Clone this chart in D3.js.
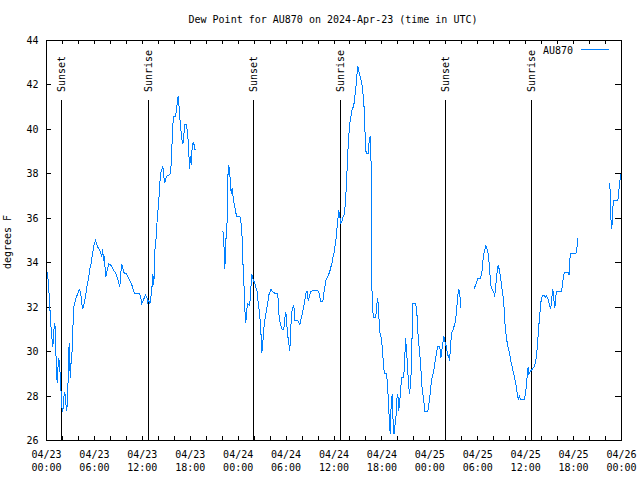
<!DOCTYPE html>
<html><head><meta charset="utf-8">
<script src="https://cdn.jsdelivr.net/npm/d3@7"></script>
<style>
body{margin:0;background:#fff}
svg{display:block}
text{font-family:"DejaVu Sans Mono","Liberation Mono",monospace;font-size:10px;fill:#000}
</style>
</head><body>
<svg id="chart" width="640" height="480"></svg>
<script>
// ---- chart content ----
const chartTitle = "Dew Point for AU870 on 2024-Apr-23 (time in UTC)";
const seriesName = "AU870";
const yAxisLabel = "degrees F";
const startTime = "2024-04-23T00:00:00Z";
const endTime = "2024-04-26T00:00:00Z";
const yTickValues = [26, 28, 30, 32, 34, 36, 38, 40, 42, 44];

// sun events (hours since 2024-04-23 00:00 UTC)
const sunLabels = ["Sunset", "Sunrise", "Sunset", "Sunrise", "Sunset", "Sunrise"];
const sunHours = [1.92, 12.81, 25.96, 36.85, 50.0, 60.77];

// dew point series, in separate continuous segments (hours since start, deg F)
const seg1Hours = [
 0.05,0.21,0.38,0.5,0.63,0.79,0.91,1.04,1.16,1.21,
 1.34,1.47,1.54,1.67,1.75,1.84,1.92,2.04,2.17,2.29,
 2.42,2.54,2.67,2.75,2.84,2.97,3.04,3.17,3.29,3.42,
 3.54,3.72,3.92,4.09,4.22,4.35,4.51,4.67,4.85,4.97,
 5.1,5.26,5.42,5.6,5.72,5.85,5.97,6.14,6.26,6.42,
 6.6,6.76,6.92,7.05,7.1,7.18,7.3,7.43,7.6,7.8,
 8.01,8.23,8.43,8.64,8.85,9.05,9.18,9.3,9.43,9.55,
 9.68,10.02,10.23,10.43,10.64,10.86,11.06,11.36,11.68,11.81,
 11.93,12.11,12.27,12.4,12.56,12.68,12.81,12.94,13.06,13.19,
 13.31,13.44,13.56,13.74,13.86,14.02,14.15,14.27,14.44,14.56,
 14.69,14.81,14.94,15.11,15.31,15.53,15.65,15.78,15.9,16.15,
 16.28,16.37,16.49,16.57,16.69,16.82,16.94,17.07,17.19,17.28,
 17.53,17.66,17.78,17.91,18.03,18.12,18.24,18.37,18.49,18.62];
const seg1Dew = [
 33.6,33.2,32.3,31.4,30.8,30.2,30.95,31.3,30.6,29.3,
 28.6,29.5,29.7,29.3,28.6,28.1,27.5,27.3,27.95,28.2,
 27.65,27.35,28.1,29.6,30.4,28.8,29.4,29.7,30.95,32.0,
 32.2,32.45,32.6,32.8,32.7,32.45,31.9,32.1,32.4,32.7,
 33.0,33.3,33.7,34.0,34.3,34.6,34.85,35.0,34.85,34.7,
 34.6,34.5,34.25,34.6,34.1,34.4,33.95,33.35,33.65,33.95,
 33.9,33.8,33.65,33.55,33.35,33.1,32.9,33.5,33.95,33.75,
 33.55,33.5,33.35,33.2,33.05,32.8,32.6,32.6,32.6,32.4,
 32.15,32.3,32.45,32.55,32.45,32.2,32.3,32.15,32.45,32.8,
 33.5,33.0,34.5,35.15,35.95,36.6,37.3,38.0,38.2,38.35,
 37.85,37.6,37.8,37.9,37.95,38.0,38.7,39.95,40.6,40.6,
 40.85,41.2,41.5,41.15,40.55,40.0,39.55,39.35,39.65,40.2,
 40.2,39.8,39.35,38.2,38.8,38.4,39.2,39.4,39.3,39.05];

const seg2Hours = [
 22.08,22.2,22.33,22.45,22.58,22.63,22.7,22.83,22.95,23.13,
 23.25,23.38,23.58,23.79,24.2,24.33,24.46,24.58,24.71,24.83,
 24.96,25.08,25.21,25.42,25.55,25.67,25.8,25.92,26.08,26.21,
 26.38,26.51,26.63,26.76,26.88,26.96,27.09,27.17,27.34,27.51,
 27.67,27.84,28.09,28.34,28.64,28.96,29.09,29.21,29.39,29.51,
 29.71,29.84,29.97,30.09,30.22,30.34,30.47,30.59,30.72,30.84,
 30.97,31.09,31.47,31.72,31.84,32.02,32.18,32.34,32.52,32.64,
 32.77,32.89,33.1,33.4,33.68,33.97,34.15,34.35,34.6,34.72,
 34.85,34.97,35.15,35.31,35.47,35.6,35.73,35.85,35.98,36.1,
 36.23,36.35,36.53,36.6,36.73,36.85,36.98,37.1,37.32,37.44,
 37.57,37.69,37.82,37.94,38.1,38.28,38.4,38.53,38.65,38.78,
 38.91,38.98,39.07,39.19,39.32,39.44,39.57,39.69,39.82,39.91,
 40.03,40.28,40.41,40.53,40.66,40.75,40.91,41.23,41.36,41.48,
 41.61,41.7,41.82,41.95,42.07,42.2,42.32,42.57,42.7,42.83,
 42.95,43.04,43.16,43.29,43.41,43.51,43.64,43.74,43.86,43.99,
 44.11,44.24,44.36,44.49,44.7,44.83,44.95,45.08,45.2,45.33,
 45.45,45.58,45.7,45.79,45.87,46.24,46.37,46.49,46.62,46.74,
 46.87,46.99,47.12,47.24,47.37,47.75,47.87,48.0,48.12,48.25,
 48.37,48.5,48.62,48.75,48.87,49.0,49.25,49.37,49.5,49.62,
 49.75,49.84,49.96,50.09,50.21,50.34,50.46,50.59,50.71,50.88,
 51.0,51.13,51.25,51.38,51.5,51.63,51.75,51.88];
const seg2Dew = [
 35.45,35.0,33.7,35.0,35.4,36.2,37.85,38.4,38.0,37.1,
 37.35,36.9,36.5,36.1,36.1,35.9,35.45,34.1,33.2,31.9,
 31.3,31.9,32.15,32.1,32.45,33.5,33.35,33.2,33.1,32.9,
 32.7,32.2,31.85,31.4,30.65,29.95,30.35,30.95,31.4,31.8,
 32.1,32.55,32.8,32.7,32.6,32.6,31.7,31.4,31.1,31.0,
 31.0,31.5,31.8,31.2,30.7,30.35,30.05,31.1,31.8,31.95,
 32.1,31.4,31.4,31.2,31.4,31.7,31.95,32.3,32.7,32.7,
 32.3,32.45,32.7,32.75,32.75,32.75,32.6,32.25,32.25,32.6,
 32.9,33.2,33.35,33.45,33.6,33.8,33.95,34.2,34.4,34.7,
 35.0,35.45,36.1,36.35,36.05,35.8,35.85,36.05,36.2,36.8,
 37.6,38.7,39.5,40.2,40.55,40.9,41.0,41.2,41.6,42.05,
 42.6,42.85,42.65,42.5,42.3,42.15,41.85,41.4,40.7,39.5,
 38.9,38.9,39.5,39.7,38.3,32.8,31.55,31.55,32.15,32.4,
 31.7,30.95,30.7,30.6,30.05,29.4,29.0,29.0,28.55,27.65,
 26.75,26.3,27.65,28.1,26.75,26.3,26.7,26.9,27.85,28.1,
 27.35,27.8,28.4,28.85,28.85,29.3,30.6,30.15,29.3,28.6,
 28.1,28.55,29.3,30.95,32.15,32.15,31.8,30.95,30.35,29.9,
 29.3,28.5,28.1,27.8,27.3,27.3,27.6,27.95,28.4,28.8,
 28.95,29.15,29.45,29.75,30.0,30.25,30.25,29.7,30.05,30.35,
 30.7,30.5,30.35,30.2,29.85,29.8,29.6,30.2,30.85,30.95,
 31.1,31.25,31.5,32.0,32.55,32.8,32.6,31.95];

const seg3Hours = [
 53.51,53.68,53.84,54.01,54.35,54.51,54.68,54.85,55.01,55.18,
 55.31,55.43,55.56,55.68,55.85,55.97,56.1,56.22,56.31,56.44,
 56.56,56.69,56.85,57.01,57.19,57.31,57.44,57.6,57.73,57.89,
 58.01,58.19,58.31,58.44,58.6,58.73,58.85,58.98,59.07,59.19,
 59.35,59.85,59.98,60.11,60.23,60.32,60.39,60.52,60.64,60.82,
 61.02,61.2,61.32,61.45,61.57,61.7,61.82,61.95,62.11,62.27,
 62.45,62.61,62.77,62.9,63.02,63.15,63.27,63.4,63.52,63.65,
 63.77,63.9,64.45,64.58,64.7,64.83,65.33,65.45,65.58,66.28,
 66.4,66.53];
const seg3Dew = [
 32.8,32.95,33.1,33.3,33.3,33.55,34.2,34.55,34.75,34.6,
 34.4,33.95,33.35,32.9,32.75,32.7,32.55,32.75,33.2,33.65,
 33.9,33.7,33.35,32.9,32.45,31.9,31.1,30.6,30.3,30.05,
 29.85,29.5,29.3,29.1,28.85,28.6,28.4,28.0,27.85,28.0,
 27.85,27.85,28.1,28.55,29.1,29.3,29.0,29.05,29.15,29.2,
 29.3,29.45,29.7,30.15,30.8,31.4,31.9,32.35,32.5,32.55,
 32.45,32.5,32.4,32.2,32.05,31.95,32.4,32.8,32.4,31.95,
 32.5,32.7,32.7,32.9,33.3,33.55,33.55,33.45,34.4,34.4,
 34.6,35.1];

const seg4Hours = [70.54,70.66,70.79,70.91,71.04,71.54,71.62,71.75,71.84,71.94];
const seg4Dew = [37.6,36.05,35.5,36.5,36.8,36.8,37.05,37.55,37.8,38.0];

// ---- drawing ----
const svg = d3.select("#chart");
const L = 46, R = 621, T = 40, B = 440;
const t0 = new Date(startTime);
const toDate = h => new Date(t0.getTime() + h * 3600e3);

const x = d3.scaleUtc().domain([new Date(startTime), new Date(endTime)]).range([L, R]);
const y = d3.scaleLinear().domain([26, 44]).range([B, T]);

// axes ticks (inward) on all four sides
const xTicks2h = x.ticks(d3.utcHour.every(2));
svg.append("g").attr("transform", `translate(0,${B})`)
  .call(d3.axisBottom(x).tickValues(xTicks2h).tickSizeInner(-4).tickSizeOuter(0).tickFormat(""))
  .call(g => g.select(".domain").remove());
svg.append("g").attr("transform", `translate(0,${T})`)
  .call(d3.axisTop(x).tickValues(xTicks2h).tickSizeInner(-4).tickSizeOuter(0).tickFormat(""))
  .call(g => g.select(".domain").remove());
svg.append("g").attr("transform", `translate(${L},0)`)
  .call(d3.axisLeft(y).tickValues(yTickValues).tickSizeInner(-5).tickSizeOuter(0).tickFormat(""))
  .call(g => g.select(".domain").remove());
svg.append("g").attr("transform", `translate(${R},0)`)
  .call(d3.axisRight(y).tickValues(yTickValues).tickSizeInner(-6).tickSizeOuter(0).tickFormat(""))
  .call(g => g.select(".domain").remove());
svg.selectAll(".tick line").attr("stroke", "#000").attr("shape-rendering", "crispEdges");

// frame
svg.append("rect").attr("x", L + 0.5).attr("y", T + 0.5)
  .attr("width", R - L).attr("height", B - T)
  .attr("fill", "none").attr("stroke", "#000").attr("shape-rendering", "crispEdges");

// y tick labels
svg.append("g").selectAll("text").data(yTickValues).join("text")
  .attr("x", 38.5).attr("y", d => y(d) + 4)
  .attr("text-anchor", "end").text(d => d);

// x tick labels (two lines)
const fmtDay = d3.utcFormat("%m/%d"), fmtHour = d3.utcFormat("%H:%M");
const xl = svg.append("g").selectAll("text").data(x.ticks(d3.utcHour.every(6))).join("text")
  .attr("text-anchor", "middle");
xl.append("tspan").attr("x", d => x(d) + 0.5).attr("y", 458).text(d => fmtDay(d));
xl.append("tspan").attr("x", d => x(d) + 0.5).attr("y", 471).text(d => fmtHour(d));

// title
svg.append("text").attr("x", 333).attr("y", 22.5).attr("text-anchor", "middle").text(chartTitle);

// y axis label
svg.append("text").attr("transform", "translate(11,242) rotate(-90)")
  .attr("text-anchor", "middle").text(yAxisLabel);

// sun events
const sunData = sunHours.map((h, i) => ({ h, label: sunLabels[i] }));
const sg = svg.append("g");
sg.selectAll("line").data(sunData).join("line")
  .attr("x1", d => Math.round(x(toDate(d.h))) + 0.5)
  .attr("x2", d => Math.round(x(toDate(d.h))) + 0.5)
  .attr("y1", 100).attr("y2", B)
  .attr("stroke", "#000").attr("shape-rendering", "crispEdges");
sg.selectAll("text").data(sunData).join("text")
  .attr("transform", d => `translate(${Math.round(x(toDate(d.h))) + 0.5},92) rotate(-90)`)
  .attr("dy", "0.35em").attr("text-anchor", "start").text(d => d.label);

// series
const segments = [
  [seg1Hours, seg1Dew], [seg2Hours, seg2Dew], [seg3Hours, seg3Dew], [seg4Hours, seg4Dew]
].map(([hs, vs]) => hs.map((h, i) => ({ t: toDate(h), v: vs[i] })));
const line = d3.line().x(d => x(d.t) + 0.5).y(d => y(d.v) + 0.5);
svg.append("g").selectAll("path").data(segments).join("path")
  .attr("d", line).attr("fill", "none")
  .attr("stroke", "#0080ff").attr("stroke-width", 1)
  .attr("shape-rendering", "crispEdges");

// legend
svg.append("text").attr("x", 573).attr("y", 53.5).attr("text-anchor", "end").text(seriesName);
svg.append("line").attr("x1", 581).attr("x2", 609).attr("y1", 49.5).attr("y2", 49.5)
  .attr("stroke", "#0080ff").attr("shape-rendering", "crispEdges");
</script>
</body></html>
